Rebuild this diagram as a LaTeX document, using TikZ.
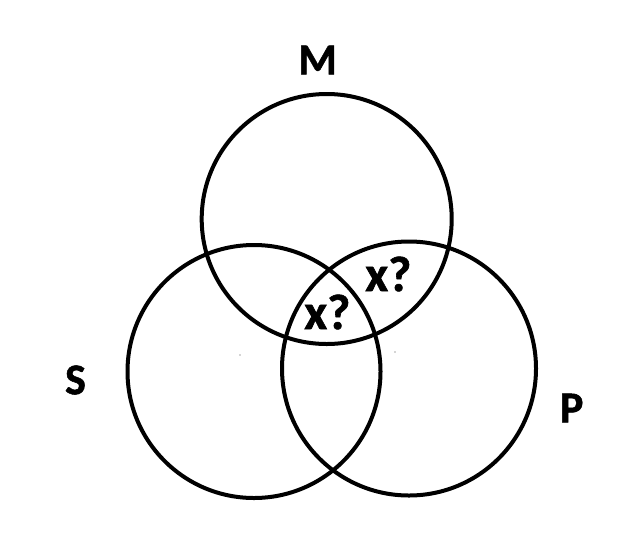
\documentclass[tikz,border=0pt]{standalone}
\usepackage{fontspec}
\setmainfont{Carlito}[BoldFeatures={FakeBold=1.2}]
\begin{document}
\begin{tikzpicture}[x=1pt,y=-1pt,
  ring/.style={draw=black,line width=4pt},
  lbl/.style={font=\fontsize{44}{44}\selectfont\bfseries,inner sep=0pt},
  qlbl/.style={font=\fontsize{50}{50}\selectfont\bfseries,inner sep=0pt},
  speck/.style={fill=black!70,inner sep=0pt,minimum size=1.2pt,circle}]
\useasboundingbox[fill=white] (0,0) rectangle (636,557);
\draw[ring] (326.7,219) circle[radius=125];
\draw[ring] (254,371.5) circle[radius=126.5];
\draw[ring] (409,368.5) circle[radius=127];
\node[lbl] (M) at (317.7,60) {M};
\node[lbl] (S) at (75.5,380) {S};
\node[lbl] (P) at (571.7,408) {P};
\node[qlbl] (q1) at (327.3,312) {x?};
\node[qlbl] (q2) at (388.3,274) {x?};
\node[speck] (d1) at (240,355) {};
\node[speck] (d2) at (395,352) {};
\end{tikzpicture}
\end{document}
